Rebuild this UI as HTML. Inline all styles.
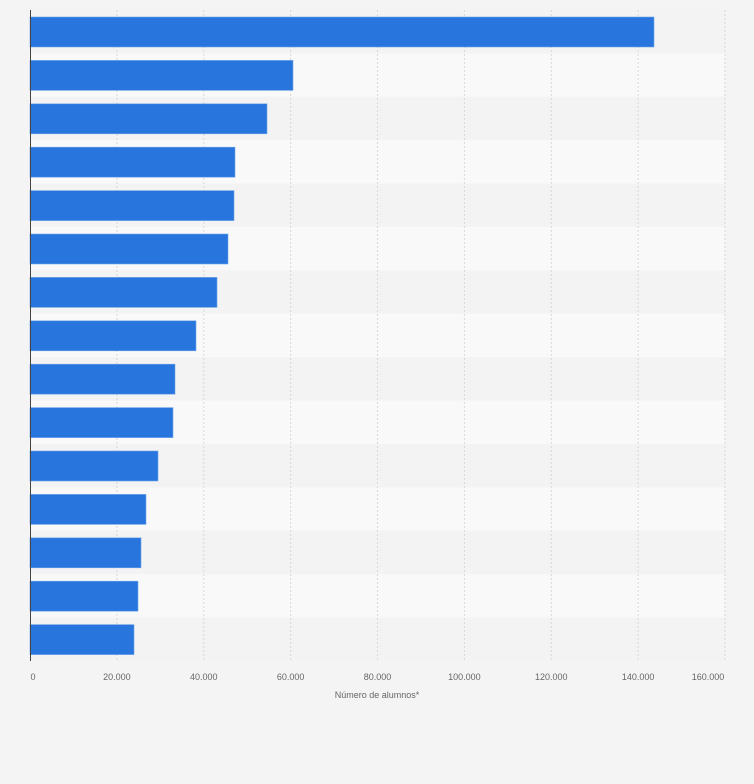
<!DOCTYPE html><html><head><style>body{margin:0;background:#f4f4f4}</style></head><body>
<svg width="754" height="779" xmlns="http://www.w3.org/2000/svg" font-family="Liberation Sans, sans-serif">
<rect width="754" height="779" fill="#f4f4f4"/>
<g>
<rect x="30" y="10" width="695" height="43.4" fill="#f3f3f3"/>
<rect x="30" y="53.4" width="695" height="43.4" fill="#f9f9f9"/>
<rect x="30" y="96.8" width="695" height="43.4" fill="#f3f3f3"/>
<rect x="30" y="140.2" width="695" height="43.4" fill="#f9f9f9"/>
<rect x="30" y="183.6" width="695" height="43.4" fill="#f3f3f3"/>
<rect x="30" y="227" width="695" height="43.4" fill="#f9f9f9"/>
<rect x="30" y="270.4" width="695" height="43.4" fill="#f3f3f3"/>
<rect x="30" y="313.8" width="695" height="43.4" fill="#f9f9f9"/>
<rect x="30" y="357.2" width="695" height="43.4" fill="#f3f3f3"/>
<rect x="30" y="400.6" width="695" height="43.4" fill="#f9f9f9"/>
<rect x="30" y="444" width="695" height="43.4" fill="#f3f3f3"/>
<rect x="30" y="487.4" width="695" height="43.4" fill="#f9f9f9"/>
<rect x="30" y="530.8" width="695" height="43.4" fill="#f3f3f3"/>
<rect x="30" y="574.2" width="695" height="43.4" fill="#f9f9f9"/>
<rect x="30" y="617.6" width="695" height="43.4" fill="#f3f3f3"/>
</g>
<g stroke="#d8d8d8" stroke-dasharray="2,2">
<line x1="116.9" y1="10" x2="116.9" y2="661"/>
<line x1="203.75" y1="10" x2="203.75" y2="661"/>
<line x1="290.6" y1="10" x2="290.6" y2="661"/>
<line x1="377.5" y1="10" x2="377.5" y2="661"/>
<line x1="464.4" y1="10" x2="464.4" y2="661"/>
<line x1="551.25" y1="10" x2="551.25" y2="661"/>
<line x1="638.1" y1="10" x2="638.1" y2="661"/>
<line x1="725" y1="10" x2="725" y2="661"/>
</g>
<g fill="#2876dd" stroke="#6fa3eb" stroke-width="0.6">
<rect x="30" y="17" width="624" height="30"/>
<rect x="30" y="60.4" width="263" height="30"/>
<rect x="30" y="103.8" width="237" height="30"/>
<rect x="30" y="147.2" width="205" height="30"/>
<rect x="30" y="190.6" width="204" height="30"/>
<rect x="30" y="234" width="198" height="30"/>
<rect x="30" y="277.4" width="187" height="30"/>
<rect x="30" y="320.8" width="166" height="30"/>
<rect x="30" y="364.2" width="145" height="30"/>
<rect x="30" y="407.6" width="143" height="30"/>
<rect x="30" y="451" width="128" height="30"/>
<rect x="30" y="494.4" width="116" height="30"/>
<rect x="30" y="537.8" width="111" height="30"/>
<rect x="30" y="581.2" width="108" height="30"/>
<rect x="30" y="624.6" width="104" height="30"/>
</g>
<line x1="30.5" y1="10" x2="30.5" y2="661" stroke="#444" stroke-width="1"/>
<g font-size="9" fill="#666" text-anchor="middle">
<text x="33" y="680">0</text>
<text x="116.9" y="680">20.000</text>
<text x="203.75" y="680">40.000</text>
<text x="290.6" y="680">60.000</text>
<text x="377.5" y="680">80.000</text>
<text x="464.4" y="680">100.000</text>
<text x="551.25" y="680">120.000</text>
<text x="638.1" y="680">140.000</text>
<text x="708" y="680">160.000</text>
<text x="377" y="698">Número de alumnos*</text>
</g>
</svg></body></html>
